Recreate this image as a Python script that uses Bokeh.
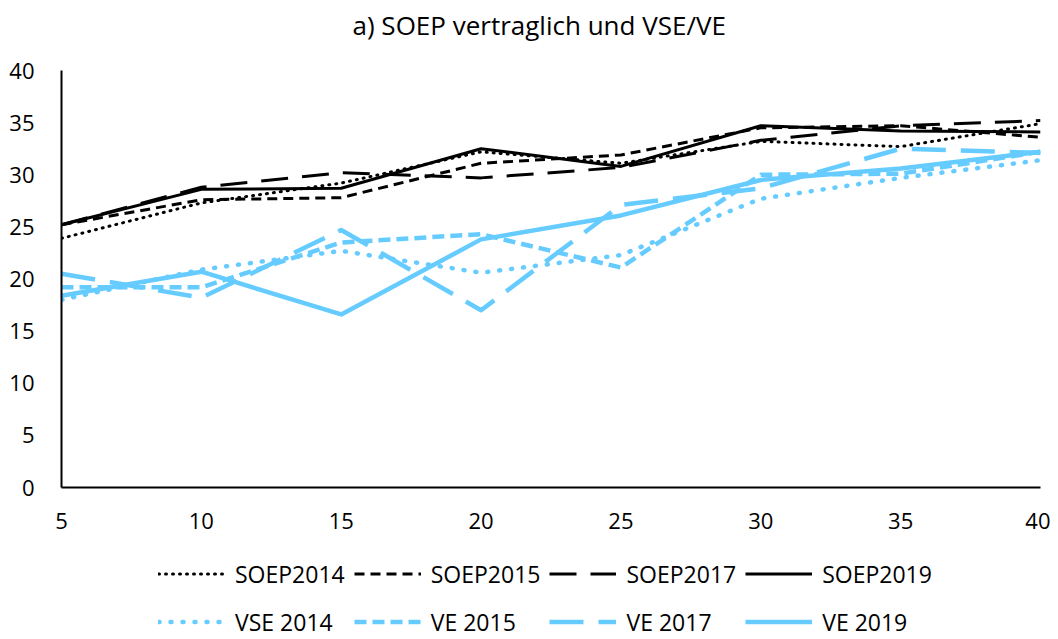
from bokeh.plotting import figure
from bokeh.layouts import column
from bokeh.models import Range1d, Legend, LegendItem, FixedTicker, Label
from bokeh.embed import file_html
from bokeh.resources import INLINE

x = [5, 10, 15, 20, 25, 30, 35, 40]
soep2014 = [23.9, 27.3, 29.2, 32.2, 31.1, 33.2, 32.7, 34.9]
soep2015 = [25.2, 27.6, 27.8, 31.1, 31.9, 34.5, 34.7, 33.6]
soep2017 = [25.2, 28.8, 30.2, 29.7, 30.7, 33.3, 34.7, 35.2]
soep2019 = [25.2, 28.6, 28.7, 32.5, 30.8, 34.7, 34.2, 34.1]
vse2014 = [18.0, 20.9, 22.7, 20.6, 22.3, 27.7, 29.7, 31.4]
ve2015 = [19.2, 19.2, 23.5, 24.3, 21.1, 30.0, 30.1, 32.2]
ve2017 = [20.5, 18.2, 24.7, 17.0, 27.1, 28.7, 32.5, 32.1]
ve2019 = [18.4, 20.7, 16.6, 23.8, 26.1, 29.5, 30.6, 32.2]

x_ticks = [5, 10, 15, 20, 25, 30, 35, 40]
y_ticks = [0, 5, 10, 15, 20, 25, 30, 35, 40]
title_text = "a) SOEP vertraglich und VSE/VE"

FONT = "Open Sans"
BLUE = "#66CCFF"

def strip(h):
    f = figure(width=1050, height=h, output_backend="svg", toolbar_location=None,
               x_range=Range1d(0, 1), y_range=Range1d(0, 1),
               x_axis_type=None, y_axis_type=None,
               min_border_left=0, min_border_right=0, min_border_top=0,
               min_border_bottom=0)
    f.outline_line_color = None
    f.grid.visible = False
    return f

# title strip
t = strip(46)
t.add_layout(Label(x=291, y=22, x_units="screen", y_units="screen",
                   text=title_text, text_font=FONT, text_font_size="26px",
                   text_color="#000000", text_align="left",
                   text_baseline="middle"))

# main chart
p = figure(width=1050, height=494, output_backend="svg", toolbar_location=None,
           x_range=Range1d(5, 40), y_range=Range1d(0, 40),
           min_border_left=61, min_border_right=10, min_border_top=24,
           min_border_bottom=53)
p.outline_line_color = None
p.grid.visible = False
for ax in (p.xaxis, p.yaxis):
    ax.major_tick_line_color = None
    ax.minor_tick_line_color = None
    ax.axis_line_color = "#000000"
    ax.axis_line_width = 2
    ax.major_label_text_font = FONT
    ax.major_label_text_font_size = "22px"
    ax.major_label_text_color = "#000000"
p.xaxis.major_label_standoff = 19
p.yaxis.major_label_standoff = 21
p.xaxis.ticker = FixedTicker(ticks=x_ticks)
p.yaxis.ticker = FixedTicker(ticks=y_ticks)

series = [
    ("SOEP2014", soep2014, "black", 3, "1 6", "round"),
    ("SOEP2015", soep2015, "black", 3, "10 6", "butt"),
    ("SOEP2017", soep2017, "black", 3, "27 14", "butt"),
    ("SOEP2019", soep2019, "black", 3, "solid", "butt"),
    ("VSE 2014", vse2014, BLUE, 4.5, "1 11", "round"),
    ("VE 2015", ve2015, BLUE, 4.5, "12 6", "butt"),
    ("VE 2017", ve2017, BLUE, 4.5, "34 15", "butt"),
    ("VE 2019", ve2019, BLUE, 4.5, "solid", "butt"),
]

# legend strip below the chart: same series, out of its view, only the legend shows
q = strip(99)
items = []
for name, ys, col, w, dash, cap in series:
    style = dict(line_color=col, line_width=w, line_dash=dash,
                 line_cap=cap, line_join="round")
    p.line(x, ys, **style)
    r = q.line(x, ys, **style)
    items.append(LegendItem(label=name, renderers=[r]))

legend = Legend(items=items, orientation="horizontal", ncols=4,
                location=(97, -2), glyph_width=67, glyph_height=39,
                label_height=39, label_standoff=10, spacing=9,
                label_text_font=FONT, label_text_font_size="23px",
                label_text_color="#000000", border_line_color=None,
                background_fill_alpha=0, padding=0, margin=0)
q.add_layout(legend, "center")

layout = column(t, p, q, spacing=0)
open("out.html", "w").write(file_html(layout, INLINE))
